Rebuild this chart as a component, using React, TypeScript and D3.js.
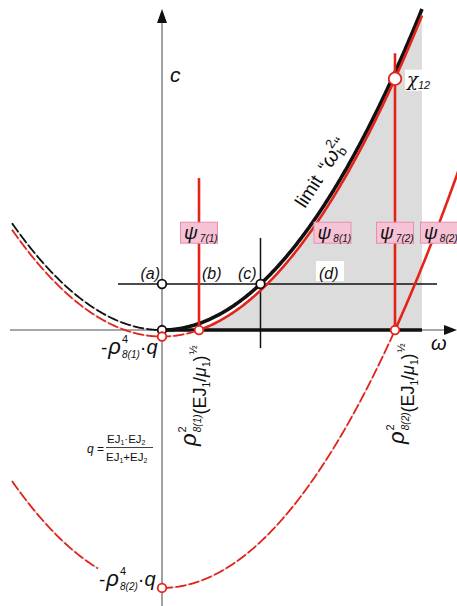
import React from "react";
import * as d3 from "d3";

const W = 457;
const H = 606;

// Branches of the form c = ω² − ρ⁴·q ; the offset ρ⁴·q equals root², root = ρ²(EJ₁/μ₁)^½
const branchNames = ["limit", "psi8_1", "psi8_2"];
const branchRoots = [0, 0.37, 2.33];
const branchEnds = [2.6, 2.6, 2.97];
const leftStart = -1.5;
const psi82LeftBreak = -0.64;

// ψ7 vertical branches
const psi7Omegas = [0.37, 2.33];
const psi7Tops = [3.2, 5.83];

// horizontal level through (a)…(d) and the cross line at (c)
const levelC = 0.97;
const levelSpan = [-0.44, 2.75];
const crossSpan = [-0.38, 1.94];
const shadeEnd = 2.6;

const psiTags = ["7(1)", "8(1)", "7(2)", "8(2)"];
const psiTagOmegas = [0.37, 1.705, 2.33, 2.77];
const psiTagC = 2.05;

const levelTags = ["(a)", "(b)", "(c)", "(d)"];
const levelTagOmegas = [-0.02, 0.4, 0.76, 1.57];

const RED = "#e4231b";
const GRAY = "#8a8a8a";
const FONT = "'Liberation Sans', Arial, sans-serif";

const x = d3.scaleLinear().domain([-1.5, 2.95]).range([12, 457]);
const y = d3.scaleLinear().domain([-5.81, 6.95]).range([606, 0]);

const branch = (root: number) => (w: number) => w * w - root * root;

function sample(f: (w: number) => number, a: number, b: number): [number, number][] {
  const pts: [number, number][] = d3.range(a, b, 0.01).map((w) => [w, f(w)]);
  pts.push([b, f(b)]);
  return pts;
}

const line = d3
  .line<[number, number]>()
  .x((d) => x(d[0]))
  .y((d) => y(d[1]));

function Dashed({ d, color }: { d: string; color: string }) {
  return (
    <g fill="none">
      <path d={d} stroke="#d4d4d4" strokeWidth={1.4} />
      <path d={d} stroke={color} strokeWidth={1.8} strokeDasharray="11 2.5" />
    </g>
  );
}

function Ring({ w, c, color, r = 4.3 }: { w: number; c: number; color: string; r?: number }) {
  return <circle cx={x(w)} cy={y(c)} r={r} fill="#fff" stroke={color} strokeWidth={1.8} />;
}

function RootLabel({ tx, ty, idx }: { tx: number; ty: number; idx: string }) {
  return (
    <text transform={`translate(${tx},${ty}) rotate(-90)`} fontFamily={FONT} fill="#111">
      <tspan fontSize={22} fontStyle="italic">ρ</tspan>
      <tspan fontSize={11} dy={-10} dx={1}>2</tspan>
      <tspan fontSize={10} fontStyle="italic" dx={-6} dy={15}>{idx}</tspan>
      <tspan fontSize={18} dy={5} dx={0}>(EJ</tspan>
      <tspan fontSize={10} dy={4}>1</tspan>
      <tspan fontSize={18} dy={-4}>/</tspan>
      <tspan fontSize={18} fontStyle="italic">μ</tspan>
      <tspan fontSize={10} dy={4}>1</tspan>
      <tspan fontSize={18} dy={-4}>)</tspan>
      <tspan fontSize={11} dy={-9} dx={1}>½</tspan>
    </text>
  );
}

function MinLabel({ tx, ty, idx }: { tx: number; ty: number; idx: string }) {
  return (
    <text x={tx} y={ty} fontFamily={FONT} fill="#111">
      <tspan fontSize={19}>-</tspan>
      <tspan fontSize={22} fontStyle="italic" dx={1}>ρ</tspan>
      <tspan fontSize={11} dy={-11} dx={1}>4</tspan>
      <tspan fontSize={10} fontStyle="italic" dx={-6} dy={15}>{idx}</tspan>
      <tspan fontSize={20} dy={-4}>·</tspan>
      <tspan fontSize={20} fontStyle="italic">q</tspan>
    </text>
  );
}

export default function App() {
  const [limitRoot, r81, r82] = branchRoots;
  const fLimit = branch(limitRoot);
  const f81 = branch(r81);
  const f82 = branch(r82);

  const shadePts: [number, number][] = [
    ...sample(f81, r81, shadeEnd),
    [shadeEnd, 0],
    [r81, 0],
  ];

  const wCross = Math.sqrt(levelC + limitRoot * limitRoot);
  const wChi = psi7Omegas[1];

  return (
    <svg
      width={W}
      height={H}
      viewBox={`0 0 ${W} ${H}`}
      style={{ position: "absolute", left: 0, top: 0, background: "#fff" }}
    >
      {/* shaded admissible region under ψ8(1) */}
      <path d={line(shadePts) + "Z"} fill="#dcdcdc" stroke="none" />

      {/* axes */}
      <line x1={x(0)} x2={x(0)} y1={H} y2={20} stroke={GRAY} strokeWidth={1.6} />
      <path d={`M${x(0)},9 L${x(0) - 5},23 L${x(0) + 5},23 Z`} fill="#111" />
      <line x1={10} x2={448} y1={y(0)} y2={y(0)} stroke={GRAY} strokeWidth={1.6} />
      <path d={`M457,${y(0)} L444,${y(0) - 5} L444,${y(0) + 5} Z`} fill="#111" />
      <line x1={x(0)} x2={x(shadeEnd)} y1={y(0)} y2={y(0)} stroke="#111" strokeWidth={3.6} />

      {/* level line and cross line */}
      <line x1={x(levelSpan[0])} x2={x(levelSpan[1])} y1={y(levelC)} y2={y(levelC)} stroke="#111" strokeWidth={1.5} />
      <line x1={x(wCross)} x2={x(wCross)} y1={y(crossSpan[1])} y2={y(crossSpan[0])} stroke="#111" strokeWidth={1.5} />

      {/* limit branch */}
      <Dashed d={line(sample(fLimit, leftStart, 0))!} color="#111" />
      <path d={line(sample(fLimit, 0, branchEnds[0]))!} fill="none" stroke="#111" strokeWidth={3.6} />

      {/* ψ8(1) */}
      <Dashed d={line(sample(f81, leftStart, r81))!} color={RED} />
      <path d={line(sample(f81, r81, branchEnds[1]))!} fill="none" stroke={RED} strokeWidth={2.6} />

      {/* ψ8(2) */}
      <Dashed d={line(sample(f82, leftStart, psi82LeftBreak))!} color={RED} />
      <Dashed d={line(sample(f82, 0, r82))!} color={RED} />
      <path d={line(sample(f82, r82, branchEnds[2]))!} fill="none" stroke={RED} strokeWidth={2.6} />

      {/* ψ7 verticals */}
      {psi7Omegas.map((w, i) => (
        <line key={i} x1={x(w)} x2={x(w)} y1={y(psi7Tops[i])} y2={y(0)} stroke={RED} strokeWidth={2.6} />
      ))}

      {/* marked points */}
      <Ring w={0} c={0} color="#111" />
      <Ring w={0} c={levelC} color="#111" />
      <Ring w={wCross} c={levelC} color="#111" />
      <Ring w={0} c={f81(0)} color={RED} />
      <Ring w={r81} c={0} color={RED} />
      <Ring w={r82} c={0} color={RED} />
      <Ring w={0} c={f82(0)} color={RED} />
      <Ring w={wChi} c={f81(wChi)} color={RED} r={6.3} />

      {/* axis names */}
      <text x={170} y={82} fontFamily={FONT} fontSize={21} fontStyle="italic" fill="#111">c</text>
      <text x={431} y={350} fontFamily={FONT} fontSize={20} fontStyle="italic" fill="#111">ω</text>

      {/* level tags */}
      <rect x={x(levelTagOmegas[3]) - 3} y={261} width={28} height={20} fill="#fff" />
      {levelTags.map((t, i) => (
        <text
          key={t}
          x={x(levelTagOmegas[i])}
          y={279}
          textAnchor={i === 0 ? "end" : "start"}
          fontFamily={FONT}
          fontSize={16}
          fontStyle="italic"
          fill="#111"
        >
          {t}
        </text>
      ))}

      {/* ψ tags */}
      {psiTags.map((t, i) => {
        const cx = x(psiTagOmegas[i]);
        const cy = y(psiTagC);
        return (
          <g key={t}>
            <rect x={cx - 18.5} y={cy - 10.5} width={37} height={21} fill="#f6c3d6" stroke="#e98eae" strokeWidth={1} />
            <text x={cx - 15} y={cy + 6} fontFamily={FONT} fill="#111">
              <tspan fontSize={19} fontStyle="italic">ψ</tspan>
              <tspan fontSize={10} fontStyle="italic" dx={2} dy={3}>{t}</tspan>
            </text>
          </g>
        );
      })}

      {/* χ12 */}
      <rect x={x(wChi) + 10} y={y(f81(wChi)) - 9} width={29} height={21} fill="#fff" />
      <text x={x(wChi) + 12} y={y(f81(wChi)) + 7} fill="#111">
        <tspan fontFamily="'DejaVu Serif', serif" fontStyle="italic" fontSize={18}>χ</tspan>
        <tspan fontFamily={FONT} fontStyle="italic" fontSize={11} dy={3}>12</tspan>
      </text>

      {/* limit label along the black branch */}
      <text transform="translate(305,209) rotate(-57)" fontFamily={FONT} fill="#111">
        <tspan fontSize={19}>limit </tspan>
        <tspan fontSize={19} dx={3}>“</tspan>
        <tspan fontSize={21} fontStyle="italic">ω</tspan>
        <tspan fontSize={13} dy={-10}>2</tspan>
        <tspan fontSize={13} dx={-7} dy={14}>b</tspan>
        <tspan fontSize={19} dy={-4}>“</tspan>
      </text>

      {/* minimum labels */}
      <MinLabel tx={101} ty={354} idx="8(1)" />
      <MinLabel tx={99} ty={586} idx="8(2)" />

      {/* root labels */}
      <RootLabel tx={196} ty={446} idx="8(1)" />
      <RootLabel tx={404} ty={444} idx="8(2)" />

      {/* q definition */}
      <g fontFamily={FONT} fill="#111">
        <text x={87} y={453} fontSize={12}>
          <tspan fontStyle="italic">q</tspan> =
        </text>
        <line x1={106} x2={153} y1={447.5} y2={447.5} stroke="#111" strokeWidth={0.8} />
        <text x={107} y={443} fontSize={11.5}>
          EJ<tspan fontSize={7} dy={2}>1</tspan>
          <tspan dy={-2}>·EJ</tspan>
          <tspan fontSize={7} dy={2}>2</tspan>
        </text>
        <text x={106} y={461} fontSize={11.5}>
          EJ<tspan fontSize={7} dy={2}>1</tspan>
          <tspan dy={-2}>+EJ</tspan>
          <tspan fontSize={7} dy={2}>2</tspan>
        </text>
      </g>
    </svg>
  );
}
